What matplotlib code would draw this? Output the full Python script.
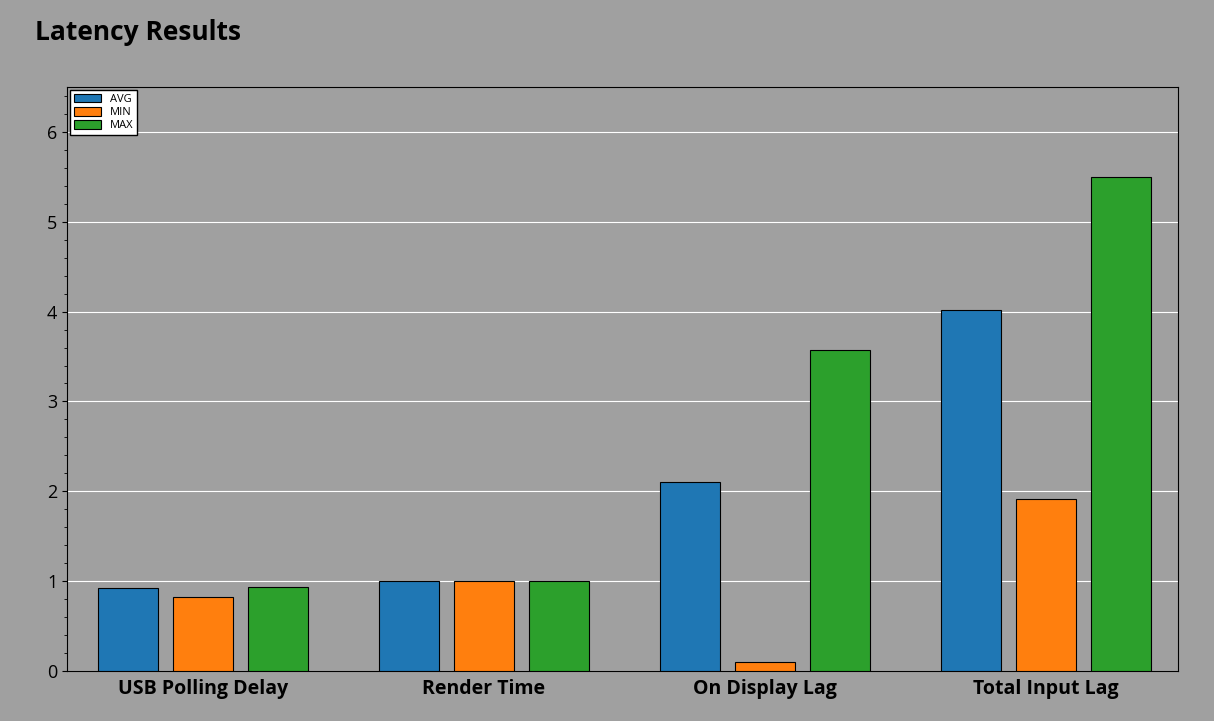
import numpy as np
import matplotlib.pyplot as plt
from matplotlib.ticker import MultipleLocator

categories = ["USB Polling Delay", "Render Time", "On Display Lag", "Total Input Lag"]
avg_vals = [0.92, 1.0, 2.10, 4.02]
min_vals = [0.82, 1.0, 0.10, 1.91]
max_vals = [0.94, 1.0, 3.57, 5.50]

bg = "#a0a0a0"
plt.rcParams["font.family"] = ["Open Sans", "DejaVu Sans"]

fig = plt.figure(figsize=(12.14, 7.21), dpi=100)
fig.patch.set_facecolor(bg)
ax = fig.add_axes([67 / 1214, 1 - 671 / 721, (1178 - 67) / 1214, (671 - 87) / 721])
ax.set_facecolor(bg)

x = np.arange(len(categories))
w = 0.213
step = 0.267
for off, vals, col, lab in [(-step, avg_vals, "#1f77b4", "AVG"),
                            (0, min_vals, "#ff7f0e", "MIN"),
                            (step, max_vals, "#2ca02c", "MAX")]:
    ax.bar(x + off, vals, w, color=col, edgecolor="black", linewidth=0.8, label=lab, zorder=3)

ax.set_xlim(-0.484, 3.47)
ax.set_ylim(0, 6.5)
ax.yaxis.set_major_locator(MultipleLocator(1))
ax.yaxis.set_minor_locator(MultipleLocator(0.2))
ax.grid(axis="y", color="white", linewidth=0.8, zorder=0)
ax.set_xticks(x)
ax.set_xticklabels(categories, fontsize=14, fontweight="bold")
ax.tick_params(axis="x", length=0, pad=6)
ax.tick_params(axis="y", labelsize=13)
for s in ax.spines.values():
    s.set_color("black")
    s.set_linewidth(0.8)

leg = ax.legend(loc="upper left", fontsize=8, frameon=True, fancybox=False,
                edgecolor="black", framealpha=1, handlelength=2.5, handleheight=0.8,
                borderaxespad=0.3, labelspacing=0.2, borderpad=0.3)
leg.get_frame().set_facecolor("white")

fig.text(35 / 1214, 1 - 33 / 721, "Latency Results", fontsize=19, fontweight="bold",
         va="center", ha="left")

fig.savefig("out.png", dpi=100, facecolor=bg)
